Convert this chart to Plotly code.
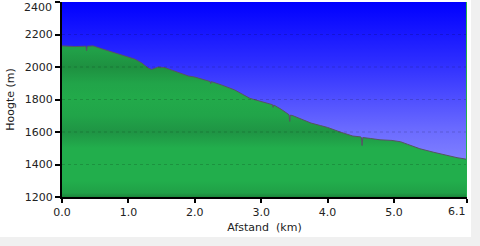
import plotly.graph_objects as go

# Data
distance_km = [0.0, 0.05, 0.2, 0.36, 0.37, 0.38, 0.47, 0.6, 0.8, 1.0, 1.1, 1.2, 1.3, 1.35,
               1.45, 1.55, 1.7, 1.9, 2.0, 2.1, 2.23, 2.24, 2.25, 2.4, 2.6, 2.83, 3.0, 3.13,
               3.17, 3.18, 3.19, 3.3, 3.42, 3.43, 3.44, 3.48, 3.6, 3.75, 3.89, 4.0, 4.19,
               4.38, 4.5, 4.51, 4.52, 4.53, 4.65, 4.79, 4.97, 5.1, 5.2, 5.39, 5.6, 5.8,
               5.95, 6.07, 6.1]
elevation_m = [2130, 2128, 2126, 2128, 2100, 2128, 2130, 2112, 2088, 2064, 2048, 2025, 1993, 1985,
               2000, 1996, 1975, 1945, 1938, 1925, 1911, 1898, 1910, 1890, 1859, 1807, 1788, 1772,
               1768, 1752, 1766, 1740, 1706, 1665, 1704, 1700, 1680, 1655, 1640, 1628, 1600,
               1575, 1570, 1566, 1517, 1566, 1560, 1552, 1548, 1540, 1525, 1497, 1475, 1455,
               1442, 1434, 1432]

y_ticks = [1200, 1400, 1600, 1800, 2000, 2200, 2400]
y_ticktext = ["1200", "1400", "1600", "1800", "2000", "2200", "2400"]
x_tickvals = [0.0, 1.0, 2.0, 3.0, 4.0, 5.0, 6.1]
x_ticktext = ["0.0", "1.0", "2.0", "3.0", "4.0", "5.0", "6.1"]
x_range = [0.0, 6.1]
y_range = [1200, 2400]

fig = go.Figure()

# sky background (blue gradient)
fig.add_trace(go.Scatter(
    x=x_range, y=[y_range[1], y_range[1]], mode="lines", line=dict(width=0),
    fill="tozeroy",
    fillgradient=dict(type="vertical", start=y_range[0], stop=y_range[1],
                      colorscale=[[0, "#9a9aff"], [0.35, "#6a6aff"], [0.7, "#2c2cff"], [1, "#0000ff"]]),
    hoverinfo="skip", showlegend=False))

# terrain profile (green banded gradient)
g0, g1 = 1200, 2140
def pos(v):
    return (v - g0) / (g1 - g0)
green_scale = [[pos(1200), "#1b863b"], [pos(1225), "#20a047"], [pos(1300), "#22ae4c"],
               [pos(1500), "#22ae4c"], [pos(1600), "#1f9444"], [pos(1700), "#21a449"],
               [pos(1800), "#22aa4a"], [pos(1900), "#21a449"], [pos(2000), "#1e9040"],
               [pos(2100), "#21a048"], [pos(2140), "#21a048"]]
fig.add_trace(go.Scatter(
    x=distance_km, y=elevation_m, mode="lines",
    line=dict(color="#555560", width=1),
    fill="tozeroy",
    fillgradient=dict(type="vertical", start=g0, stop=g1, colorscale=green_scale),
    showlegend=False))

shapes = []
for v in y_ticks[1:-1]:
    shapes.append(dict(type="line", xref="paper", x0=0, x1=1, yref="y", y0=v, y1=v,
                       line=dict(color="rgba(0,0,0,0.16)", width=1, dash="dot"), layer="above"))
# right edge green line
shapes.append(dict(type="line", xref="x", x0=x_range[1], x1=x_range[1], yref="paper", y0=0, y1=1,
                   line=dict(color="#22b04c", width=2), layer="above"))
# grey window borders
shapes.append(dict(type="rect", xref="paper", x0=1.0099, x1=1.05, yref="paper", y0=-0.3, y1=1.05,
                   fillcolor="#f0f0f0", line=dict(width=0), layer="above"))
shapes.append(dict(type="rect", xref="paper", x0=-0.2, x1=1.05, yref="paper", y0=-0.3, y1=-0.205,
                   fillcolor="#f0f0f0", line=dict(width=0), layer="above"))

label_font = dict(family="DejaVu Sans", size=11, color="#222222")
# edge tick labels drawn inward so they are not cut at the page edges
annotations = [
    dict(text=y_ticktext[-1], xref="paper", x=0, xanchor="right", xshift=-8,
         yref="y", y=y_ticks[-1], yanchor="top", yshift=3, showarrow=False, font=label_font),
    dict(text=x_ticktext[-1], xref="x", x=x_tickvals[-1], xanchor="right", xshift=1,
         yref="paper", y=0, yanchor="top", yshift=-6, showarrow=False, font=label_font),
]

fig.update_layout(
    width=480, height=246,
    margin=dict(l=62, r=13, t=2, b=49, autoexpand=False),
    paper_bgcolor="white", plot_bgcolor="white",
    font=label_font,
    shapes=shapes,
    annotations=annotations,
    xaxis=dict(range=x_range, tickvals=x_tickvals, ticktext=x_ticktext[:-1] + [""], automargin=False,
               showgrid=False, zeroline=False, showline=True, linecolor="black", linewidth=2,
               ticks="outside", ticklen=4, tickwidth=2, tickcolor="black",
               ticklabeloverflow="allow",
               title=dict(text="Afstand\u00a0\u00a0(km)", standoff=5, font=dict(size=11)),
               tickfont=dict(size=11)),
    yaxis=dict(range=y_range, tickvals=y_ticks, ticktext=y_ticktext[:-1] + [""], automargin=False,
               showgrid=False, zeroline=False, showline=True, linecolor="black", linewidth=2,
               ticks="outside", ticklen=5, tickwidth=2, tickcolor="black",
               ticklabeloverflow="allow",
               title=dict(text="Hoogte (m)", standoff=8, font=dict(size=11)),
               tickfont=dict(size=11)),
)

fig.write_html("out.html")
